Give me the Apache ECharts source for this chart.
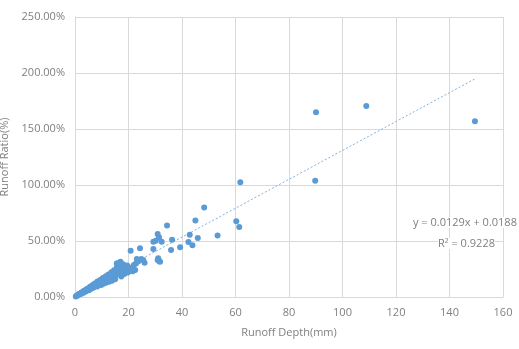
<!DOCTYPE html>
<html>
<head>
<meta charset="utf-8">
<script src="https://cdn.jsdelivr.net/npm/echarts@6/dist/echarts.min.js"></script>
<style>
  html, body { margin: 0; padding: 0; background: #fff; }
  #chart { width: 519px; height: 349px; }
</style>
</head>
<body>
<div id="chart"></div>
<script>
// Runoff depth (mm) of each event
const depthMm = [
  0.3, 0.5, 0.7, 1.0, 1.2, 1.5, 1.8, 2.0, 2.2, 2.5, 2.8, 3.0, 3.2, 3.5, 3.8, 4.0, 4.3, 4.6,
  5.0, 5.2, 5.5, 5.8, 6.0, 6.3, 6.6, 7.0, 7.2, 7.5, 7.8, 8.0, 8.3, 8.6, 9.0, 9.2, 9.5, 9.8,
  10.0, 10.3, 10.6, 11.0, 11.3, 11.6, 12.0, 12.3, 12.7, 13.0, 13.4, 13.8, 14.0, 14.4, 14.8,
  15.0, 15.3, 15.6, 15.9, 16.2, 16.5, 16.8, 17.0, 17.3, 17.6, 18.0, 18.4, 18.7, 19.0, 19.3,
  19.7, 20.0, 20.4, 20.8, 21.2, 21.6, 22.0, 22.5, 23.1, 23.7, 24.3, 24.8, 25.5, 26.0,
  15.0, 16.8, 19.3, 18.7, 15.6,
  1.3, 2.4, 3.4, 4.5, 5.6, 6.5, 7.4, 8.4, 9.4, 10.4, 11.5, 12.5, 13.6, 14.6, 3.9, 6.1, 8.1,
  10.2, 12.2, 14.2, 16.0, 17.8, 19.5, 21.0, 22.8, 11.8, 13.2, 9.6, 7.7,
  29.3, 29.3, 30.2, 30.9, 31.4, 32.4, 30.9, 31.5, 31.1, 31.8, 34.4, 35.9, 36.3, 39.3,
  42.4, 42.9, 43.9, 45.0, 45.9, 48.3, 53.3, 60.3, 61.4, 61.8, 89.8, 90.1, 108.9, 149.5
];
// Runoff ratio of each event (fraction, shown as percent)
const runoffRatio = [
  0.005, 0.008, 0.012, 0.015, 0.020, 0.022, 0.028, 0.031, 0.026, 0.038, 0.042, 0.036, 0.049, 0.051, 0.046, 0.062, 0.055, 0.068,
  0.074, 0.061, 0.083, 0.072, 0.091, 0.078, 0.102, 0.084, 0.110, 0.096, 0.121, 0.103, 0.094, 0.128, 0.112, 0.140, 0.124, 0.108,
  0.152, 0.131, 0.119, 0.164, 0.142, 0.128, 0.175, 0.151, 0.136, 0.189, 0.162, 0.146, 0.208, 0.176, 0.225,
  0.158, 0.194, 0.262, 0.301, 0.213, 0.278, 0.226, 0.315, 0.182, 0.249, 0.293, 0.206, 0.270,
  0.232, 0.240, 0.218, 0.265, 0.229, 0.413, 0.254, 0.231, 0.286, 0.242, 0.339, 0.320, 0.435, 0.339, 0.330, 0.305,
  0.226, 0.226, 0.240, 0.270, 0.300,
  0.024, 0.041, 0.056, 0.074, 0.092, 0.105, 0.121, 0.138, 0.152, 0.170, 0.186, 0.200, 0.221, 0.238, 0.052, 0.090, 0.118,
  0.140, 0.168, 0.196, 0.244, 0.258, 0.282, 0.262, 0.300, 0.155, 0.178, 0.142, 0.112,
  0.429, 0.494, 0.503, 0.563, 0.533, 0.494, 0.330, 0.320, 0.345, 0.315, 0.638, 0.420, 0.512, 0.445,
  0.491, 0.556, 0.461, 0.682, 0.527, 0.798, 0.548, 0.676, 0.625, 1.024, 1.038, 1.649, 1.705, 1.569
];
// Linear trend fitted to the events
const trendSlope = 0.0129;
const trendIntercept = 0.0188;
const trendRange = [0, 150];
const trendLabel = 'y = 0.0129x + 0.0188';
const r2Label = 'R\u00b2 = 0.9228';

const points = depthMm.map((x, i) => [x, runoffRatio[i]]);
const trend = trendRange.map(x => [x, trendSlope * x + trendIntercept]);

const labelColor = '#7f7f7f';
const gridColor = '#d9d9d9';
const fontFamily = '"Open Sans", "Liberation Sans", sans-serif';

const chart = echarts.init(document.getElementById('chart'), null, { renderer: 'canvas' });
chart.setOption({
  animation: false,
  grid: { left: 75, right: 16, top: 17, bottom: 52, containLabel: false, outerBoundsMode: 'none' },
  xAxis: {
    type: 'value', min: 0, max: 160, interval: 20,
    name: 'Runoff Depth(mm)', nameLocation: 'middle', nameGap: 30,
    nameTextStyle: { color: labelColor, fontSize: 11, fontFamily },
    axisLine: { show: true, lineStyle: { color: gridColor } },
    axisTick: { show: false },
    axisLabel: { color: labelColor, fontSize: 11, fontFamily, margin: 10 },
    splitLine: { show: true, lineStyle: { color: gridColor } }
  },
  yAxis: {
    type: 'value', min: 0, max: 2.5, interval: 0.5,
    name: 'Runoff Ratio(%)', nameLocation: 'middle', nameGap: 60,
    nameTextStyle: { color: labelColor, fontSize: 11, fontFamily },
    axisLine: { show: true, lineStyle: { color: gridColor } },
    axisTick: { show: false },
    axisLabel: {
      color: labelColor, fontSize: 11, fontFamily, margin: 10,
      formatter: v => (v * 100).toFixed(2) + '%'
    },
    splitLine: { show: true, lineStyle: { color: gridColor } }
  },
  series: [
    {
      type: 'line',
      data: trend,
      symbol: 'none',
      lineStyle: { color: '#7fb0e0', width: 1, type: [2, 2] },
      z: 1
    },
    {
      type: 'scatter',
      data: points,
      symbolSize: 6,
      itemStyle: { color: '#5b9bd5', opacity: 1 },
      z: 2
    }
  ],
  graphic: [
    {
      type: 'text', left: 413, top: 217, z: 10,
      style: { text: trendLabel, fill: '#7f7f7f', fontSize: 11, fontFamily, backgroundColor: '#fff' }
    },
    {
      type: 'text', left: 438, top: 238, z: 10,
      style: { text: r2Label, fill: '#7f7f7f', fontSize: 11, fontFamily, backgroundColor: '#fff' }
    }
  ]
});
</script>
</body>
</html>
